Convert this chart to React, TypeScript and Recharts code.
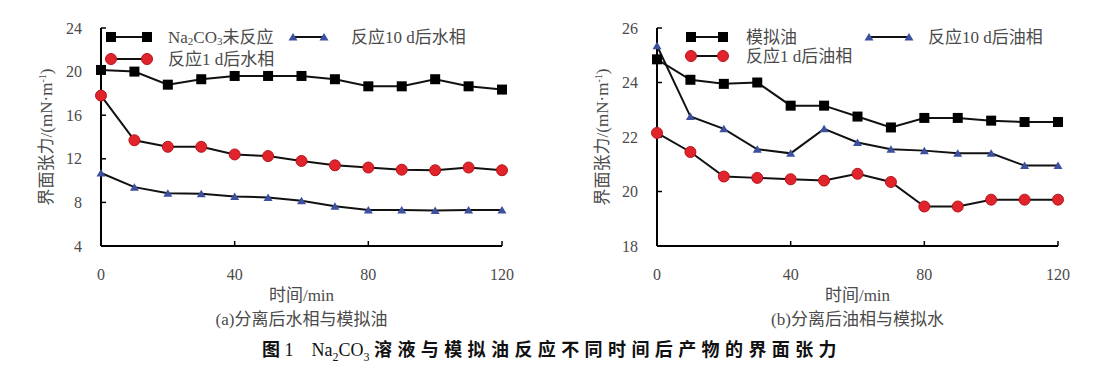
import React from "react";
import { LineChart, Line, XAxis, YAxis } from "recharts";

// time axis (min)
const times = [0, 10, 20, 30, 40, 50, 60, 70, 80, 90, 100, 110, 120];

// (a) 分离后水相与模拟油
const aUnreacted = [20.15, 20.0, 18.8, 19.3, 19.6, 19.6, 19.6, 19.3, 18.65, 18.65, 19.3, 18.65, 18.35];
const aDay1 = [17.8, 13.7, 13.1, 13.1, 12.4, 12.25, 11.8, 11.4, 11.2, 11.0, 10.95, 11.2, 10.95];
const aDay10 = [10.7, 9.4, 8.85, 8.8, 8.55, 8.45, 8.15, 7.65, 7.3, 7.3, 7.25, 7.3, 7.3];
const aTicks = [4, 8, 12, 16, 20, 24];

// (b) 分离后油相与模拟水
const bOil = [24.85, 24.1, 23.95, 24.0, 23.15, 23.15, 22.75, 22.35, 22.7, 22.7, 22.6, 22.55, 22.55];
const bDay1 = [22.15, 21.45, 20.55, 20.5, 20.45, 20.4, 20.65, 20.35, 19.45, 19.45, 19.7, 19.7, 19.7];
const bDay10 = [25.35, 22.75, 22.3, 21.55, 21.4, 22.3, 21.8, 21.55, 21.5, 21.4, 21.4, 20.95, 20.95];
const bTicks = [18, 20, 22, 24, 26];

const xTicks = [0, 40, 80, 120];

const SERIF = "'Liberation Serif', 'Noto Sans CJK SC', serif";
const TEXT = "#4a4a4a";
const RED = "#e1232b";
const BLUE = "#3d4f9f";

const SquareDot = (p: any) => {
  if (p.cx == null || p.cy == null) return <g key={p.index} />;
  return <rect key={p.index} x={p.cx - 5} y={p.cy - 5} width={10} height={10} fill="#000" />;
};
const CircleDot = (p: any) => {
  if (p.cx == null || p.cy == null) return <g key={p.index} />;
  return <circle key={p.index} cx={p.cx} cy={p.cy} r={5.5} fill={RED} stroke="#b5161d" strokeWidth={1} />;
};
const TriangleDot = (p: any) => {
  if (p.cx == null || p.cy == null) return <g key={p.index} />;
  const { cx, cy } = p;
  return <path key={p.index} d={`M${cx},${cy - 4} L${cx + 4.5},${cy + 3.5} L${cx - 4.5},${cy + 3.5} Z`} fill={BLUE} />;
};

const markers: Record<string, any> = { square: SquareDot, circle: CircleDot, triangle: TriangleDot };

const XTick = (p: any) => (
  <text x={p.x} y={p.y} dy="0.71em" textAnchor="middle" fontSize={16} fill={TEXT} fontFamily="'Liberation Serif', serif">
    {p.payload.value}
  </text>
);
const YTick = (p: any) => (
  <text x={p.x} y={p.y} dy="0.35em" textAnchor="end" fontSize={16} fill={TEXT} fontFamily="'Liberation Serif', serif">
    {p.payload.value}
  </text>
);

const Name = ({ text }: { text: string }) => {
  if (text.startsWith("Na2CO3")) {
    return (
      <>
        Na<tspan dy={4} fontSize={11}>2</tspan>
        <tspan dy={-4}>CO</tspan>
        <tspan dy={4} fontSize={11}>3</tspan>
        <tspan dy={-4}>{text.slice(6)}</tspan>
      </>
    );
  }
  return <>{text}</>;
};

type Series = { key: string; name: string; values: number[]; marker: string };
type LegendPos = { key: string; y: number; m1: number; m2: number; tx: number };

function Panel(props: {
  left: number;
  width: number;
  margin: { left: number; right: number };
  series: Series[];
  domain: [number, number];
  ticks: number[];
  legend: LegendPos[];
  subtitle: string;
}) {
  const { left, width, margin, series, domain, ticks, legend, subtitle } = props;
  const rows = times.map((t, i) => {
    const r: any = { t };
    series.forEach((s) => (r[s.key] = s.values[i]));
    return r;
  });
  const plotLeft = margin.left + 40;
  const plotRight = width - margin.right;
  const plotCenter = (plotLeft + plotRight) / 2;

  return (
    <div style={{ position: "absolute", left, top: 0, width, height: 368, fontFamily: SERIF }}>
      <LineChart
        width={width}
        height={290}
        data={rows}
        margin={{ top: 28, right: margin.right, bottom: 14, left: margin.left }}
      >
        <XAxis
          dataKey="t"
          type="number"
          domain={[0, 120]}
          ticks={xTicks}
          height={30}
          tickSize={-5}
          tickMargin={28}
          axisLine={{ stroke: "#000", strokeWidth: 2 }}
          tickLine={{ stroke: "#000", strokeWidth: 1.5 }}
          tick={XTick}
        />
        <YAxis
          type="number"
          domain={domain}
          ticks={ticks}
          width={40}
          tickSize={-5}
          tickMargin={24}
          axisLine={{ stroke: "#000", strokeWidth: 2 }}
          tickLine={{ stroke: "#000", strokeWidth: 1.5 }}
          tick={YTick}
        />
        {series.map((s) => (
          <Line
            key={s.key}
            dataKey={s.key}
            name={s.name}
            type="linear"
            stroke="#111"
            strokeWidth={2}
            dot={markers[s.marker]}
            activeDot={false}
            isAnimationActive={false}
          />
        ))}
      </LineChart>

      {/* legend */}
      <svg width={width} height={80} style={{ position: "absolute", left: 0, top: 0, pointerEvents: "none" }}>
        {legend.map((l) => {
          const s = series.find((x) => x.key === l.key)!;
          const M = markers[s.marker];
          return (
            <g key={l.key}>
              <line x1={plotLeft + l.m1} x2={plotLeft + l.m2} y1={l.y} y2={l.y} stroke="#111" strokeWidth={2} />
              <M cx={plotLeft + l.m1} cy={l.y} index={0} />
              <M cx={plotLeft + l.m2} cy={l.y} index={1} />
              <text x={plotLeft + l.tx} y={l.y} dominantBaseline="central" fontSize={17} fill={TEXT} fontFamily={SERIF}>
                <Name text={s.name} />
              </text>
            </g>
          );
        })}
      </svg>

      {/* y axis title */}
      <div
        style={{
          position: "absolute",
          left: plotLeft - 56,
          top: 137,
          transform: "translate(-50%, -50%) rotate(-90deg)",
          whiteSpace: "nowrap",
          fontFamily: SERIF,
          fontSize: 17,
          color: TEXT,
          lineHeight: "18px",
        }}
      >
        界面张力/(mN·m<sup style={{ fontSize: 10 }}>-1</sup>)
      </div>

      {/* x axis title + subtitle */}
      <div style={{ position: "absolute", left: plotCenter - 150, width: 300, top: 286, textAlign: "center", fontFamily: SERIF, fontSize: 17, color: TEXT, lineHeight: "20px" }}>
        时间/min
      </div>
      <div style={{ position: "absolute", left: plotCenter - 150, width: 300, top: 310, textAlign: "center", fontFamily: SERIF, fontSize: 17, color: TEXT, lineHeight: "20px" }}>
        {subtitle}
      </div>
    </div>
  );
}

const seriesA: Series[] = [
  { key: "u", name: "Na2CO3未反应", values: aUnreacted, marker: "square" },
  { key: "d1", name: "反应1 d后水相", values: aDay1, marker: "circle" },
  { key: "d10", name: "反应10 d后水相", values: aDay10, marker: "triangle" },
];
const seriesB: Series[] = [
  { key: "o", name: "模拟油", values: bOil, marker: "square" },
  { key: "d1", name: "反应1 d后油相", values: bDay1, marker: "circle" },
  { key: "d10", name: "反应10 d后油相", values: bDay10, marker: "triangle" },
];

export default function App() {
  return (
    <div style={{ position: "relative", width: 1119, height: 368, background: "#fff", overflow: "hidden" }}>
      <style>{`body{margin:0;}`}</style>
      <Panel
        left={0}
        width={560}
        margin={{ left: 61, right: 58 }}
        series={seriesA}
        domain={[4, 24]}
        ticks={aTicks}
        subtitle="(a)分离后水相与模拟油"
        legend={[
          { key: "u", y: 37, m1: 10, m2: 46, tx: 67 },
          { key: "d10", y: 37, m1: 192, m2: 223, tx: 250 },
          { key: "d1", y: 59, m1: 10, m2: 46, tx: 67 },
        ]}
      />
      <Panel
        left={560}
        width={559}
        margin={{ left: 57, right: 61 }}
        series={seriesB}
        domain={[18, 26]}
        ticks={bTicks}
        subtitle="(b)分离后油相与模拟水"
        legend={[
          { key: "o", y: 37, m1: 34, m2: 66, tx: 89 },
          { key: "d10", y: 37, m1: 212, m2: 252, tx: 271 },
          { key: "d1", y: 56, m1: 34, m2: 66, tx: 89 },
        ]}
      />
      <div style={{ position: "absolute", left: 262, top: 338, whiteSpace: "nowrap", lineHeight: "20px", color: "#111" }}>
        <span style={{ fontFamily: "'Noto Sans CJK SC'", fontWeight: 700, fontSize: 18 }}>图</span>
        <span style={{ fontFamily: "'Liberation Serif'", fontSize: 18 }}>
          {"\u00a0"}1{"\u00a0\u00a0\u00a0\u00a0"}Na<sub style={{ fontSize: 12 }}>2</sub>CO<sub style={{ fontSize: 12 }}>3</sub>{" "}
        </span>
        <span style={{ fontFamily: "'Noto Sans CJK SC'", fontWeight: 700, fontSize: 18, letterSpacing: 5.4 }}>
          溶液与模拟油反应不同时间后产物的界面张力
        </span>
      </div>
    </div>
  );
}
